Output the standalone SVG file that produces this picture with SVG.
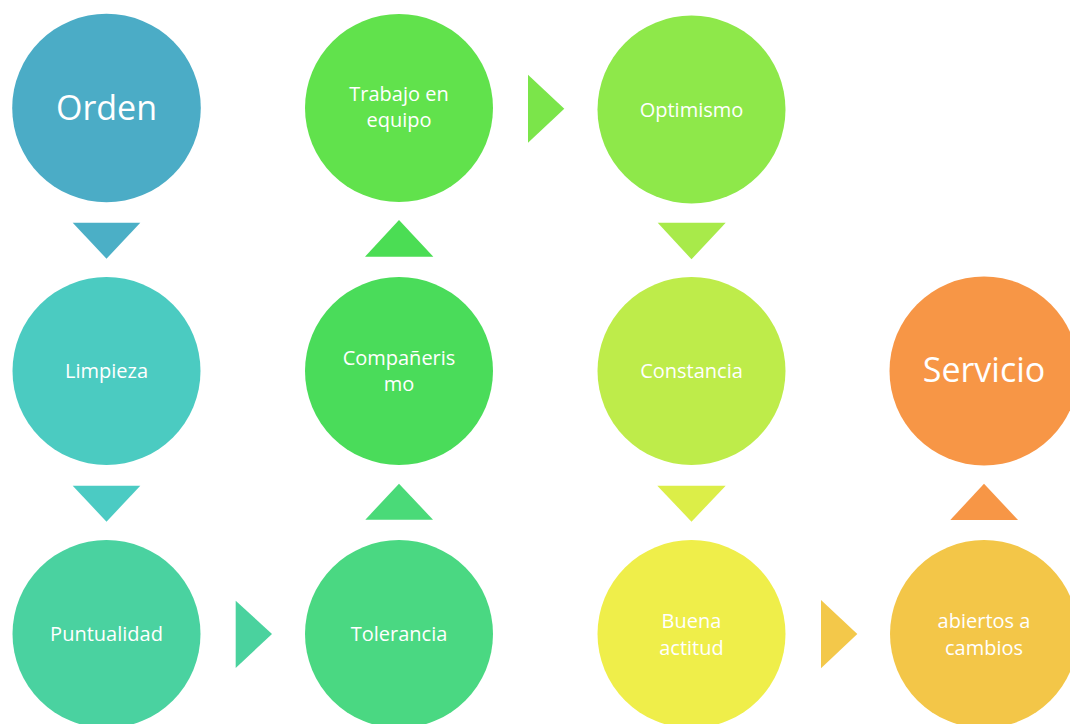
<svg xmlns="http://www.w3.org/2000/svg" width="1070" height="724" viewBox="0 0 1070 724">
<style>
  .t { font-family: "Open Sans", "Noto Sans", "DejaVu Sans", sans-serif; fill: #FFFFFF; text-anchor: middle; }
  .s { font-size: 20px; }
  .l { font-size: 34px; }
</style>
<rect width="1070" height="724" fill="#FFFFFF"/>
<g id="connectors">
  <polygon points="72.7,222.7 140.3,222.7 106.5,258.7" fill="#4BAFC6"/>
  <polygon points="72.7,485.7 140.3,485.7 106.5,521.7" fill="#4BCBC3"/>
  <polygon points="235.7,600.7 235.7,668 272,634" fill="#4AD29E"/>
  <polygon points="365.3,519.7 433,519.7 399,483.7" fill="#4ADA78"/>
  <polygon points="365,256.7 433.3,256.7 399,220" fill="#4BDD54"/>
  <polygon points="528,74.7 528,142.7 564.3,108.7" fill="#7BE54A"/>
  <polygon points="657.7,222.7 725.7,222.7 691.5,259.3" fill="#A8EA4A"/>
  <polygon points="657.3,485.7 725.7,485.7 691.5,521.7" fill="#DCEE48"/>
  <polygon points="821,600 821,668.3 857.3,634" fill="#F3C84A"/>
  <polygon points="950.3,520 1018,520 984,483.7" fill="#F79646"/>
</g>
<g id="orden">
  <circle cx="106.5" cy="108" r="94.3" fill="#4BACC6"/>
  <text class="t l" x="106.5" y="119.5">Orden</text>
</g>
<g id="limpieza">
  <circle cx="106.5" cy="371" r="94" fill="#4BCBC1"/>
  <text class="t s" x="106.5" y="378">Limpieza</text>
</g>
<g id="puntualidad">
  <circle cx="106.5" cy="634" r="94" fill="#4AD2A0"/>
  <text class="t s" x="106.5" y="641">Puntualidad</text>
</g>
<g id="tolerancia">
  <circle cx="399" cy="634" r="94" fill="#4AD882"/>
  <text class="t s" x="399" y="641">Tolerancia</text>
</g>
<g id="companerismo">
  <circle cx="399" cy="371" r="94" fill="#4ADC5A"/>
  <text class="t s" x="399" y="365">Compañeris</text>
  <text class="t s" x="399" y="391">mo</text>
</g>
<g id="trabajo">
  <circle cx="399" cy="108" r="94" fill="#61E24C"/>
  <text class="t s" x="399" y="101">Trabajo en</text>
  <text class="t s" x="399" y="127">equipo</text>
</g>
<g id="optimismo">
  <circle cx="691.5" cy="109.5" r="94" fill="#8EE84A"/>
  <text class="t s" x="691.5" y="117">Optimismo</text>
</g>
<g id="constancia">
  <circle cx="691.5" cy="371" r="94" fill="#BEEC4A"/>
  <text class="t s" x="691.5" y="378">Constancia</text>
</g>
<g id="buena-actitud">
  <circle cx="691.5" cy="634" r="94" fill="#EFEE4A"/>
  <text class="t s" x="691.5" y="628">Buena</text>
  <text class="t s" x="691.5" y="655">actitud</text>
</g>
<g id="abiertos">
  <circle cx="984" cy="634" r="94" fill="#F3C648"/>
  <text class="t s" x="984" y="628">abiertos a</text>
  <text class="t s" x="984" y="655">cambios</text>
</g>
<g id="servicio">
  <circle cx="984" cy="371" r="94.5" fill="#F79646"/>
  <text class="t l" x="984" y="382">Servicio</text>
</g>
</svg>
